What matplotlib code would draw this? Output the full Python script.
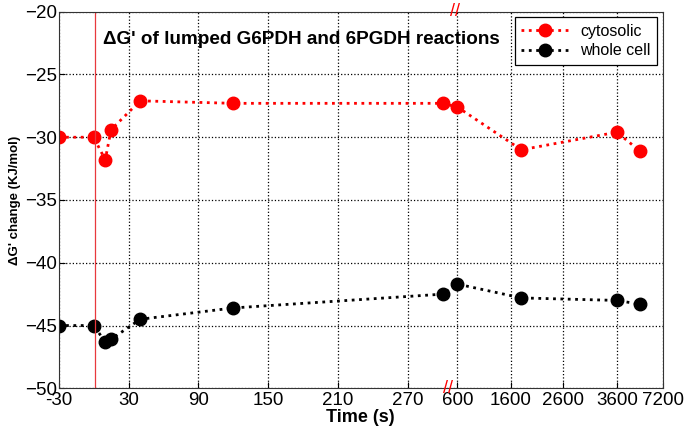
import numpy as np
import matplotlib
matplotlib.use("Agg")
import matplotlib.pyplot as plt

plt.rcParams['font.family'] = ['Liberation Sans', 'DejaVu Sans']

# time points (s) and free energy change (KJ/mol)
time_s = [-30, 0, 10, 15, 40, 120, 300, 600, 1800, 3600, 5400]
cytosolic = [-30.0, -30.0, -31.8, -29.4, -27.1, -27.3, -27.3, -27.6, -31.0, -29.6, -31.1]
whole_cell = [-45.0, -45.0, -46.3, -46.1, -44.5, -43.6, -42.5, -41.7, -42.8, -43.0, -43.3]

xticks = [-30, 30, 90, 150, 210, 270, 600, 1600, 2600, 3600, 7200]
yticks = [-50, -45, -40, -35, -30, -25, -20]

# broken axis: linear up to 300 s, then compressed segments
anchor_t = [-30, 300, 600, 1600, 2600, 3600, 7200]
anchor_u = [-30, 299, 311.7, 357.4, 402.5, 448.3, 487.7]


def fwd(x):
    return np.interp(x, anchor_t, anchor_u, left=-30, right=487.7)


def inv(u):
    return np.interp(u, anchor_u, anchor_t)


fig = plt.figure(figsize=(6.85, 4.41), dpi=100)
ax = fig.add_axes([0.0857, 0.1195, 0.882, 0.854])
ax.set_xscale('function', functions=(fwd, inv))

ax.plot(time_s, cytosolic, ':', color='red', lw=2, marker='o', ms=9,
        label='cytosolic')
ax.plot(time_s, whole_cell, ':', color='black', lw=2, marker='o', ms=9,
        label='whole cell')

# stimulus time
ax.axvline(1, color='#e8383d', lw=0.9, ls='-')

ax.set_xlim(-30, 7200)
ax.set_ylim(-50, -20)
ax.set_xticks(xticks)
ax.set_xticklabels([str(t) for t in xticks])
ax.set_yticks(yticks)
ax.minorticks_off()
ax.tick_params(direction='in', labelsize=13.5, length=4, pad=1)
ax.tick_params(axis='x', pad=3)
ax.grid(True, color='black', ls=':', lw=0.9)

for s in ax.spines.values():
    s.set_color('#333333')

# break marks
ax.text(0.656, 1.0, '//', color='red', fontsize=13, ha='center', va='center',
        transform=ax.transAxes, clip_on=False)
ax.text(0.645, 0.0, '//', color='red', fontsize=13, ha='center', va='center',
        transform=ax.transAxes, clip_on=False)

ax.text(0.073, 0.925, "\u0394G' of lumped G6PDH and 6PGDH reactions",
        transform=ax.transAxes, fontsize=13.6, fontweight='bold', va='center')

ax.set_xlabel('Time (s)', fontsize=13, fontweight='bold', labelpad=0)
ax.set_ylabel("\u0394G' change (KJ/mol)", fontsize=9.5, fontweight='bold',
              labelpad=3)

leg = ax.legend(loc='upper right', fontsize=11.5, fancybox=False,
                edgecolor='black', framealpha=1, borderaxespad=0.35,
                handlelength=2.9, labelspacing=0.3, borderpad=0.4)
leg.get_frame().set_linewidth(0.9)

fig.savefig('out.png', dpi=100)
